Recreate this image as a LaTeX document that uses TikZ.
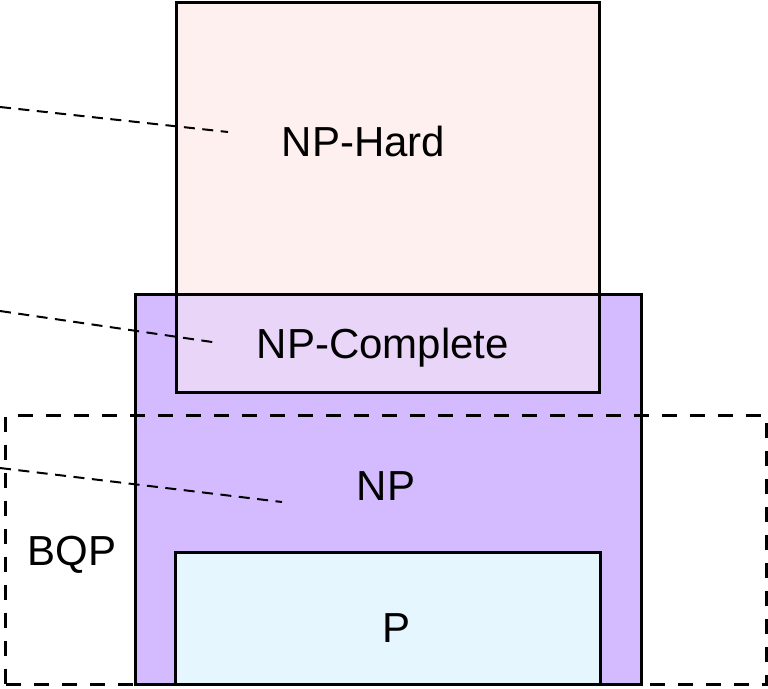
\documentclass[tikz,border=0pt]{standalone}
\usepackage{fontspec}
\setmainfont{Liberation Sans}
\begin{document}
\begin{tikzpicture}[x=1pt,y=-1pt,
  box/.style={draw=black, line width=3pt, line join=miter, inner sep=0pt, outer sep=0pt, anchor=north west},
  bqpbox/.style={draw=black, line width=3pt, dash pattern=on 15pt off 13pt, inner sep=0pt, outer sep=0pt, anchor=north west},
  conn/.style={draw=black, line width=2pt, dash pattern=on 11pt off 7.5pt},
  lbl/.style={font=\fontsize{42}{50}\selectfont, anchor=base, inner sep=0pt}]
\definecolor{hardfill}{HTML}{FFF0F0}
\definecolor{npfill}{HTML}{D4BBFF}
\definecolor{ovfill}{HTML}{E8D5F8}
\definecolor{pfill}{HTML}{E5F6FF}
\useasboundingbox (0,0) rectangle (768,688);
% fills
\fill[hardfill] (176.5,2.5) rectangle (599.5,392.5);
\fill[npfill] (135,294.5) rectangle (641.5,684.5);
\fill[ovfill] (176.5,294.5) rectangle (599.5,392.5);
\fill[pfill] (175.5,552.5) rectangle (600.5,684.5);
% outlines as named nodes
\node[box, minimum width=423pt, minimum height=390pt] (hard) at (176.5,2.5) {};
\node[box, minimum width=506.5pt, minimum height=390pt] (np) at (135,294.5) {};
\node[box, minimum width=425pt, minimum height=132pt] (p) at (175.5,552.5) {};
\node[bqpbox, minimum width=761pt, minimum height=269pt] (bqp) at (5.5,415.5) {};
% labels
\node[lbl] (thard) at (363.5,156) {NP-Hard};
\node[lbl] (tcomp) at (383,358) {NP-Complete};
\node[lbl] (tnp) at (386,500) {NP};
\node[lbl] (tbqp) at (72,565) {BQP};
\node[lbl] (tp) at (396.5,642) {P};
% connectors
\coordinate (a0) at (0,107);
\coordinate (a1) at (228,132);
\coordinate (b0) at (0,311);
\coordinate (b1) at (219,343);
\coordinate (c0) at (0,468);
\coordinate (c1) at (282,502);
\draw[conn] (a0) -- (a1);
\draw[conn] (b0) -- (b1);
\draw[conn] (c0) -- (c1);
\end{tikzpicture}
\end{document}
